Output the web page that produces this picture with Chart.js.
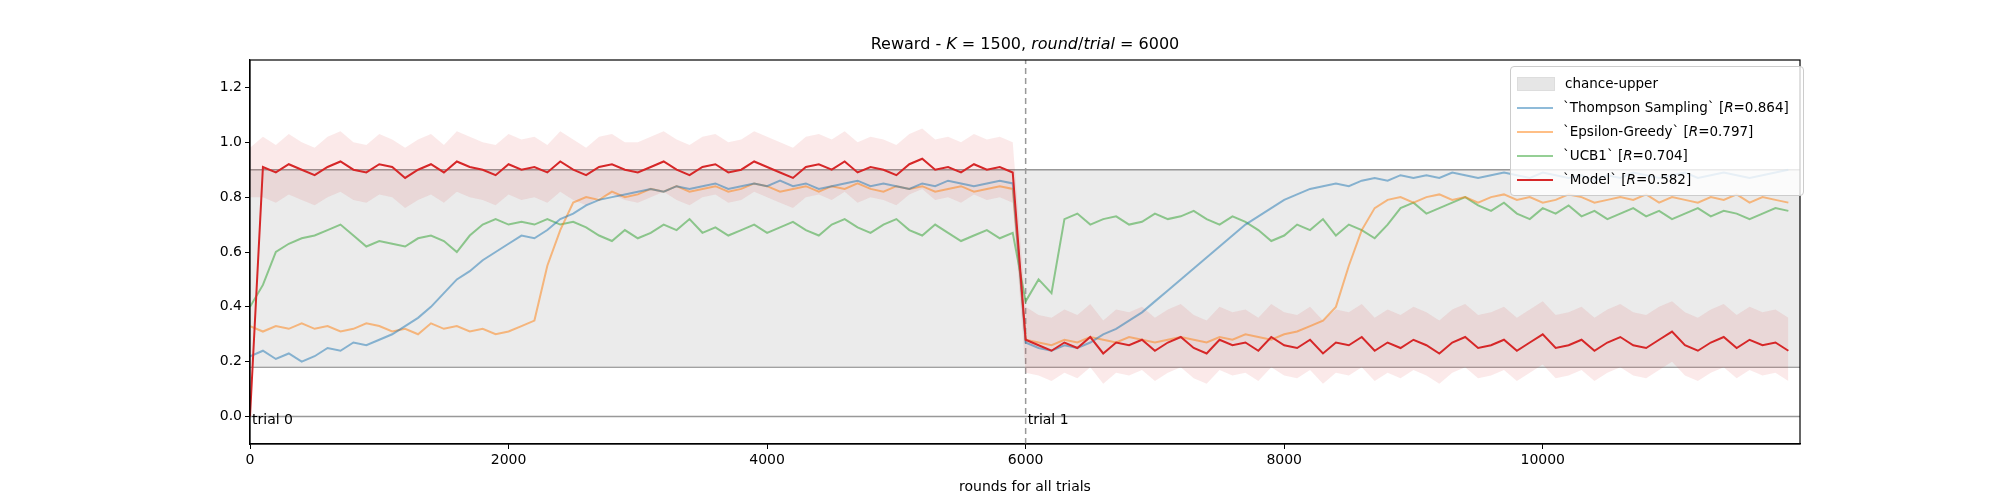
<!DOCTYPE html>
<html><head><meta charset="utf-8">
<script src="https://cdn.jsdelivr.net/npm/chart.js@4.4.0/dist/chart.umd.min.js"></script>
<style>
body{margin:0;background:#fff;font-family:"DejaVu Sans",sans-serif;}
#wrap{position:relative;width:2000px;height:500px;}
#title{position:absolute;left:250px;width:1550px;top:34px;text-align:center;font-size:16px;}
#legend{position:absolute;left:1510px;top:66px;width:280px;border:1px solid #ccc;border-radius:4px;background:rgba(255,255,255,0.8);font-size:13.5px;padding:4px 6px;}
#legend div{height:24px;line-height:24px;white-space:nowrap;}
#legend span.sw{display:inline-block;width:36px;margin-right:10px;vertical-align:middle;}
</style></head><body>
<div id="wrap"><canvas id="c" width="2000" height="500"></canvas>
<div id="title">Reward - <i>K</i> = 1500, <i>round</i>/<i>trial</i> = 6000</div>
<div id="legend">
<div><span class="sw" style="height:12px;background:#e6e6e6;border:1px solid #ddd"></span>chance-upper</div>
<div><span class="sw" style="height:2px;background:rgba(31,119,180,0.5)"></span>`Thompson Sampling` [<i>R</i>=0.864]</div>
<div><span class="sw" style="height:2px;background:rgba(255,127,14,0.5)"></span>`Epsilon-Greedy` [<i>R</i>=0.797]</div>
<div><span class="sw" style="height:2px;background:rgba(44,160,44,0.5)"></span>`UCB1` [<i>R</i>=0.704]</div>
<div><span class="sw" style="height:2px;background:#d62728"></span>`Model` [<i>R</i>=0.582]</div>
</div></div>
<script>
const rounds=[];for(let i=0;i<120;i++)rounds.push(i*100);
const thompson=[0.22,0.24,0.21,0.23,0.20,0.22,0.25,0.24,0.27,0.26,0.28,0.30,0.33,0.36,0.40,0.45,0.50,0.53,0.57,0.60,0.63,0.66,0.65,0.68,0.72,0.74,0.77,0.79,0.80,0.81,0.82,0.83,0.82,0.84,0.83,0.84,0.85,0.83,0.84,0.85,0.84,0.86,0.84,0.85,0.83,0.84,0.85,0.86,0.84,0.85,0.84,0.83,0.85,0.84,0.86,0.85,0.84,0.85,0.86,0.85,
0.27,0.25,0.24,0.26,0.25,0.27,0.30,0.32,0.35,0.38,0.42,0.46,0.50,0.54,0.58,0.62,0.66,0.70,0.73,0.76,0.79,0.81,0.83,0.84,0.85,0.84,0.86,0.87,0.86,0.88,0.87,0.88,0.87,0.89,0.88,0.87,0.88,0.89,0.88,0.87,0.89,0.88,0.87,0.88,0.86,0.88,0.87,0.89,0.88,0.87,0.88,0.89,0.87,0.88,0.89,0.88,0.87,0.88,0.89,0.90];
const epsilon=[0.33,0.31,0.33,0.32,0.34,0.32,0.33,0.31,0.32,0.34,0.33,0.31,0.32,0.30,0.34,0.32,0.33,0.31,0.32,0.30,0.31,0.33,0.35,0.55,0.68,0.78,0.80,0.79,0.82,0.80,0.81,0.83,0.82,0.84,0.82,0.83,0.84,0.82,0.83,0.85,0.84,0.82,0.83,0.84,0.82,0.84,0.83,0.85,0.83,0.82,0.84,0.83,0.84,0.82,0.83,0.84,0.82,0.83,0.84,0.83,
0.28,0.27,0.26,0.28,0.27,0.29,0.28,0.27,0.29,0.28,0.27,0.28,0.29,0.28,0.27,0.29,0.28,0.30,0.29,0.28,0.30,0.31,0.33,0.35,0.40,0.55,0.68,0.76,0.79,0.80,0.78,0.80,0.81,0.79,0.80,0.78,0.80,0.81,0.79,0.80,0.78,0.79,0.81,0.80,0.78,0.79,0.80,0.79,0.81,0.78,0.80,0.79,0.78,0.80,0.79,0.81,0.78,0.80,0.79,0.78];
const ucb1=[0.40,0.48,0.60,0.63,0.65,0.66,0.68,0.70,0.66,0.62,0.64,0.63,0.62,0.65,0.66,0.64,0.60,0.66,0.70,0.72,0.70,0.71,0.70,0.72,0.70,0.71,0.69,0.66,0.64,0.68,0.65,0.67,0.70,0.68,0.72,0.67,0.69,0.66,0.68,0.70,0.67,0.69,0.71,0.68,0.66,0.70,0.72,0.69,0.67,0.70,0.72,0.68,0.66,0.70,0.67,0.64,0.66,0.68,0.65,0.67,
0.42,0.50,0.45,0.72,0.74,0.70,0.72,0.73,0.70,0.71,0.74,0.72,0.73,0.75,0.72,0.70,0.73,0.71,0.68,0.64,0.66,0.70,0.68,0.72,0.66,0.70,0.68,0.65,0.70,0.76,0.78,0.74,0.76,0.78,0.80,0.77,0.75,0.78,0.74,0.72,0.76,0.74,0.77,0.73,0.75,0.72,0.74,0.76,0.73,0.75,0.72,0.74,0.76,0.73,0.75,0.74,0.72,0.74,0.76,0.75];
const model=[0.00,0.91,0.89,0.92,0.90,0.88,0.91,0.93,0.90,0.89,0.92,0.91,0.87,0.90,0.92,0.89,0.93,0.91,0.90,0.88,0.92,0.90,0.91,0.89,0.93,0.90,0.88,0.91,0.92,0.90,0.89,0.91,0.93,0.90,0.88,0.91,0.92,0.89,0.90,0.93,0.91,0.89,0.87,0.91,0.92,0.90,0.93,0.89,0.91,0.90,0.88,0.92,0.94,0.90,0.91,0.89,0.92,0.90,0.91,0.89,
0.28,0.26,0.24,0.27,0.25,0.29,0.23,0.27,0.26,0.28,0.24,0.27,0.29,0.25,0.23,0.28,0.26,0.27,0.24,0.29,0.26,0.25,0.28,0.23,0.27,0.26,0.29,0.24,0.27,0.25,0.28,0.26,0.23,0.27,0.29,0.25,0.26,0.28,0.24,0.27,0.30,0.25,0.26,0.28,0.24,0.27,0.29,0.26,0.25,0.28,0.31,0.26,0.24,0.27,0.29,0.25,0.28,0.26,0.27,0.24];
const modelUpper=[0.98,1.02,0.99,1.03,1.00,0.98,1.02,1.04,1.00,0.99,1.03,1.01,0.98,1.01,1.03,0.99,1.04,1.02,1.00,0.99,1.03,1.01,1.02,0.99,1.04,1.01,0.98,1.02,1.03,1.00,1.00,1.02,1.04,1.01,0.99,1.02,1.03,1.00,1.01,1.04,1.02,1.00,0.98,1.02,1.03,1.01,1.04,1.00,1.02,1.01,0.99,1.03,1.05,1.01,1.02,1.00,1.03,1.01,1.02,1.00,
0.40,0.37,0.36,0.39,0.37,0.41,0.35,0.39,0.38,0.40,0.36,0.39,0.41,0.37,0.35,0.40,0.38,0.39,0.36,0.41,0.38,0.37,0.40,0.35,0.39,0.38,0.41,0.36,0.39,0.37,0.40,0.38,0.35,0.39,0.41,0.37,0.38,0.40,0.36,0.39,0.42,0.37,0.38,0.40,0.36,0.39,0.41,0.38,0.37,0.40,0.42,0.38,0.36,0.39,0.41,0.37,0.40,0.38,0.39,0.36];
const modelLower=[0.80,0.80,0.78,0.81,0.79,0.77,0.80,0.82,0.79,0.78,0.81,0.80,0.76,0.79,0.81,0.78,0.82,0.80,0.79,0.77,0.81,0.79,0.80,0.78,0.82,0.79,0.77,0.80,0.81,0.79,0.78,0.80,0.82,0.79,0.77,0.80,0.81,0.78,0.79,0.82,0.80,0.78,0.76,0.80,0.81,0.79,0.82,0.78,0.80,0.79,0.77,0.81,0.83,0.79,0.80,0.78,0.81,0.79,0.80,0.78,
0.16,0.15,0.13,0.16,0.14,0.18,0.12,0.16,0.15,0.17,0.13,0.16,0.18,0.14,0.12,0.17,0.15,0.16,0.13,0.18,0.15,0.14,0.17,0.12,0.16,0.15,0.18,0.13,0.16,0.14,0.17,0.15,0.12,0.16,0.18,0.14,0.15,0.17,0.13,0.16,0.19,0.14,0.15,0.17,0.13,0.16,0.18,0.15,0.14,0.17,0.20,0.15,0.13,0.16,0.18,0.14,0.17,0.15,0.16,0.13];
const chanceLower=0.18, chanceUpper=0.9, xMax=11990, trialLen=6000;
const yTicks=[0,0.2,0.4,0.6,0.8,1.0,1.2], xTicks=[0,2000,4000,6000,8000,10000];
const pts=a=>a.map((v,i)=>({x:rounds[i],y:v}));
const flat=v=>[{x:0,y:v},{x:xMax,y:v}];
const base={pointRadius:0,borderWidth:2,tension:0};
const textPlugin={id:'txt',afterDatasetsDraw(ch){const c=ch.ctx,x=ch.scales.x,y=ch.scales.y,a=ch.chartArea;c.save();
c.strokeStyle='#000';c.lineWidth=1.2;c.strokeRect(a.left,a.top,a.right-a.left,a.bottom-a.top);
c.font='14px "DejaVu Sans"';c.fillStyle='#000';c.textBaseline='top';
['trial 0','trial 1'].forEach((t,i)=>c.fillText(t,x.getPixelForValue(i*trialLen)+2,y.getPixelForValue(0)-3));c.restore();}};
new Chart(document.getElementById('c'),{type:'line',plugins:[textPlugin],
data:{datasets:[
{...base,order:10,data:flat(chanceLower),borderColor:'rgba(128,128,128,0.8)',borderWidth:1.5,fill:false},
{...base,order:9,data:flat(chanceUpper),borderColor:'rgba(128,128,128,0.8)',borderWidth:1.5,fill:'-1',backgroundColor:'rgba(215,215,215,0.5)'},
{...base,order:8,data:flat(0),borderColor:'rgba(128,128,128,0.8)',borderWidth:1.5},
{...base,order:7,data:[{x:trialLen,y:-0.1},{x:trialLen,y:1.3}],borderColor:'#999',borderWidth:1.5,borderDash:[6,4]},
{...base,order:6,data:pts(modelLower),borderWidth:0,borderColor:'transparent'},
{...base,order:5,data:pts(modelUpper),borderWidth:0,borderColor:'transparent',fill:'-1',backgroundColor:'rgba(214,39,40,0.1)'},
{...base,order:4,data:pts(ucb1),borderColor:'rgba(44,160,44,0.5)'},
{...base,order:3,data:pts(epsilon),borderColor:'rgba(255,127,14,0.5)'},
{...base,order:2,data:pts(thompson),borderColor:'rgba(31,119,180,0.5)'},
{...base,order:1,data:pts(model),borderColor:'#d62728'}
]},
options:{animation:false,responsive:false,
layout:{padding:{left:190,right:200,top:60,bottom:0}},
plugins:{legend:{display:false},tooltip:{enabled:false}},
scales:{
x:{type:'linear',min:0,max:xMax,afterFit:s=>{s.height=56},afterBuildTicks:s=>{s.ticks=xTicks.map(v=>({value:v}))},
ticks:{color:'#000',font:{size:14,family:'DejaVu Sans'},maxRotation:0,autoSkip:false,callback:v=>String(v)},
grid:{drawOnChartArea:false,tickLength:5,color:'#000'},border:{color:'#000',width:1.2},
title:{display:true,text:'rounds for all trials',color:'#000',font:{size:14,family:'DejaVu Sans'},padding:{top:2}}},
y:{min:-0.1,max:1.3,afterFit:s=>{s.width=60},afterBuildTicks:s=>{s.ticks=yTicks.map(v=>({value:v}))},
ticks:{color:'#000',font:{size:14,family:'DejaVu Sans'},callback:v=>v.toFixed(1)},
grid:{drawOnChartArea:false,tickLength:5,color:'#000'},border:{color:'#000',width:1.2}}
}}});
</script></body></html>
